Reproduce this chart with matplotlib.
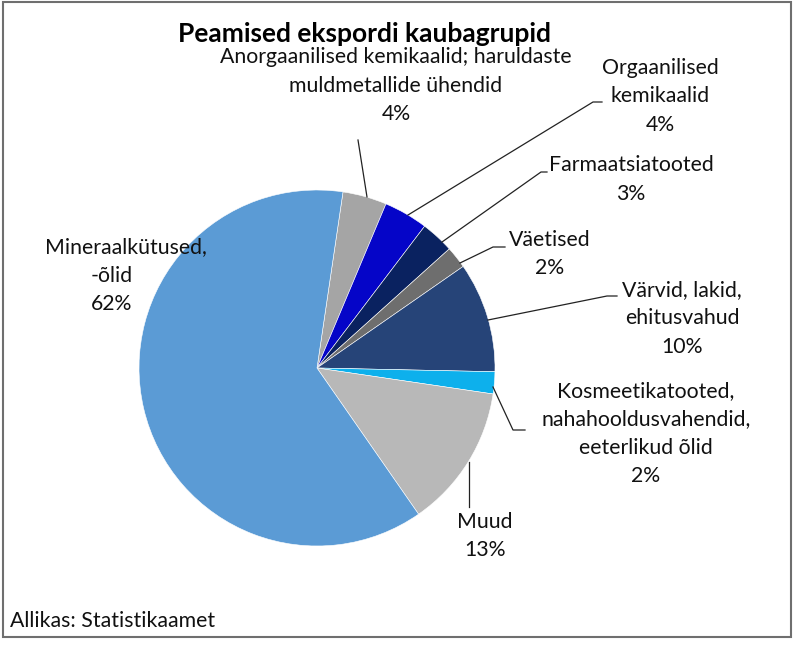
import matplotlib.pyplot as plt
from matplotlib.patches import Rectangle

plt.rcParams['font.family'] = ['Lato', 'DejaVu Sans']

# data, clockwise from the top
categories = ['Anorgaanilised kemikaalid; haruldaste\nmuldmetallide ühendid',
              'Orgaanilised\nkemikaalid',
              'Farmaatsiatooted',
              'Väetised',
              'Värvid, lakid,\nehitusvahud',
              'Kosmeetikatooted,\nnahahooldusvahendid,\neeterlikud õlid',
              'Muud',
              'Mineraalkütused,\n-õlid']
shares = [4, 4, 3, 2, 10, 2, 13, 62]
colors = ['#A5A5A5', '#0505C8', '#0A2260', '#6E6E6E',
          '#264478', '#0DB0EC', '#B8B8B8', '#5B9BD5']

W, H = 798, 646


def py(y):
    # pixel row -> data y
    return H - y


fig = plt.figure(figsize=(W / 100, H / 100), dpi=100)
ax = fig.add_axes([0, 0, 1, 1])
ax.set_xlim(0, W)
ax.set_ylim(0, H)
ax.axis('off')

ax.add_patch(Rectangle((3, py(637)), 788, 635, fill=False,
                       edgecolor='#6F6F6F', linewidth=1.5))

ax.pie(shares, colors=colors, center=(317, py(368)), radius=178,
       startangle=81.6, counterclock=False,
       wedgeprops=dict(edgecolor='white', linewidth=0.4))
ax.set_xlim(0, W)
ax.set_ylim(0, H)
ax.set_aspect('equal')

ax.text(364, py(34), 'Peamised ekspordi kaubagrupid', ha='center', va='center',
        fontsize=19, fontweight='bold')

# label layout: (x centre, y of first line)
label_pos = [(396, 57), (660, 68), (631, 165), (550, 240),
             (682, 290), (646, 391), (485, 522), (126, 247)]
for name, val, (lx, ly) in zip(categories, shares, label_pos):
    lines = name.split('\n') + ['%d%%' % val]
    for i, line in enumerate(lines):
        x = lx
        if name.startswith('Mineraal') and i > 0:
            x = 112
        ax.text(x, py(ly + i * 28.5), line, ha='center', va='center',
                fontsize=15.3, color='#111111')

# leader lines
leaders = [[(358, 140), (367, 197)],
           [(408, 215), (593, 102), (602, 102)],
           [(442, 242), (541, 172), (547, 172)],
           [(460, 263), (493, 247), (505, 247)],
           [(488, 320), (607, 296), (617, 296)],
           [(493, 387), (513, 430), (525, 430)],
           [(469, 462), (469, 507)]]
for pts in leaders:
    ax.plot([p[0] for p in pts], [py(p[1]) for p in pts],
            color='#222222', linewidth=0.9)

ax.text(10, py(621), 'Allikas: Statistikaamet', ha='left', va='center',
        fontsize=15.3, color='#111111')

fig.savefig('out.png', dpi=100)
